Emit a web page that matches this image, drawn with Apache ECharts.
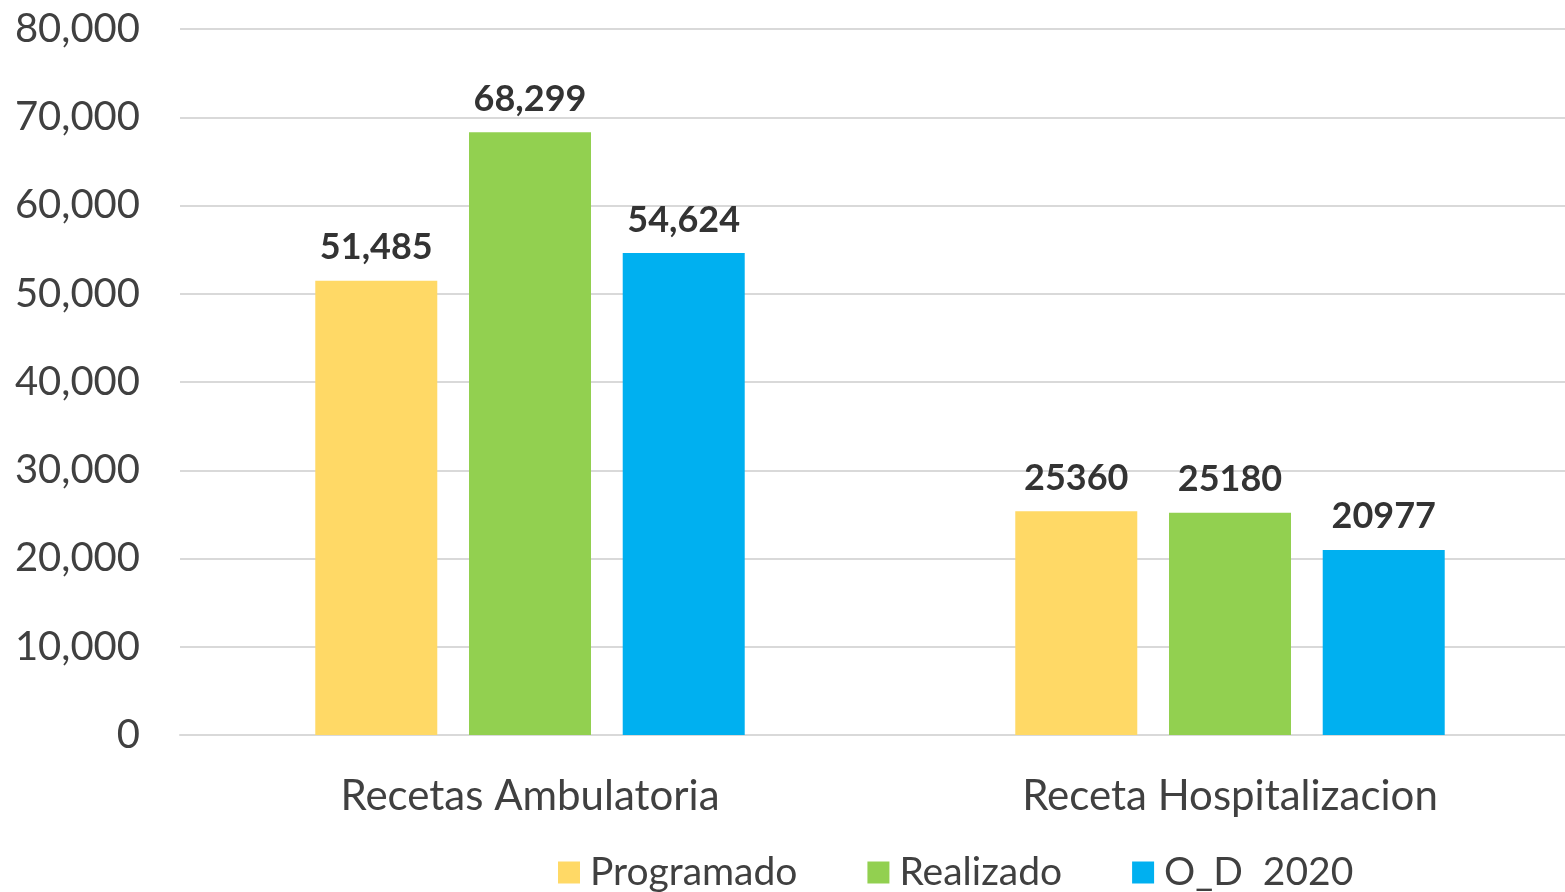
<!DOCTYPE html>
<html>
<head>
<meta charset="utf-8">
<script src="https://cdn.jsdelivr.net/npm/echarts@6/dist/echarts.min.js"></script>
<style>
  html, body { margin: 0; padding: 0; background: #ffffff; overflow: hidden; }
  /* plot area runs slightly past the right edge of the window */
  #chart { width: 1580px; height: 892px; }
</style>
</head>
<body>
<div id="chart"></div>
<script>
// Categories and series values
const categories = ['Recetas Ambulatoria', 'Receta Hospitalizacion'];
const programado = [51485, 25360];
const realizado = [68299, 25180];
const od2020 = [54624, 20977];
const seriesNames = ['Programado', 'Realizado', 'O_D  2020'];
// Value labels use thousands separators only in the first category
const labelGrouped = [true, false];

const FONT = 'Lato, "Open Sans", "Noto Sans", sans-serif';
const TEXT = '#404040';
const colors = ['#FFD966', '#92D050', '#00B0F0'];

function fmtThousands(v) {
  return String(v).replace(/\B(?=(\d{3})+(?!\d))/g, ',');
}

function barSeries(name, data, color) {
  return {
    name: name,
    type: 'bar',
    data: data,
    barWidth: 122,
    barGap: '26%',
    itemStyle: { color: color },
    label: {
      show: true,
      position: 'top',
      distance: 15,
      fontFamily: FONT,
      fontSize: 36,
      fontWeight: 'bold',
      color: '#333333',
      formatter: p => labelGrouped[p.dataIndex] ? fmtThousands(p.value) : String(p.value)
    }
  };
}

const chart = echarts.init(document.getElementById('chart'), null, { renderer: 'canvas' });
chart.setOption({
  animation: false,
  backgroundColor: '#ffffff',
  grid: { left: 180, top: 29, right: 0, bottom: 157, containLabel: false },
  legend: {
    left: 553,
    top: 848,
    itemWidth: 22,
    itemHeight: 22,
    itemGap: 70,
    icon: 'rect',
    textStyle: { fontFamily: FONT, fontSize: 39, color: TEXT, padding: [0, 0, 0, 5] },
    data: seriesNames
  },
  xAxis: {
    type: 'category',
    data: categories,
    axisLine: { lineStyle: { color: '#D9D9D9', width: 2 } },
    axisTick: { show: false },
    axisLabel: { fontFamily: FONT, fontSize: 42, color: TEXT, margin: 40 }
  },
  yAxis: {
    type: 'value',
    min: 0,
    max: 80000,
    interval: 10000,
    axisLine: { show: false },
    axisTick: { show: false },
    splitLine: { lineStyle: { color: '#D9D9D9', width: 2 } },
    axisLabel: { fontFamily: FONT, fontSize: 40, color: TEXT, margin: 40, formatter: v => fmtThousands(v) }
  },
  series: [
    barSeries(seriesNames[0], programado, colors[0]),
    barSeries(seriesNames[1], realizado, colors[1]),
    barSeries(seriesNames[2], od2020, colors[2])
  ]
});
</script>
</body>
</html>
